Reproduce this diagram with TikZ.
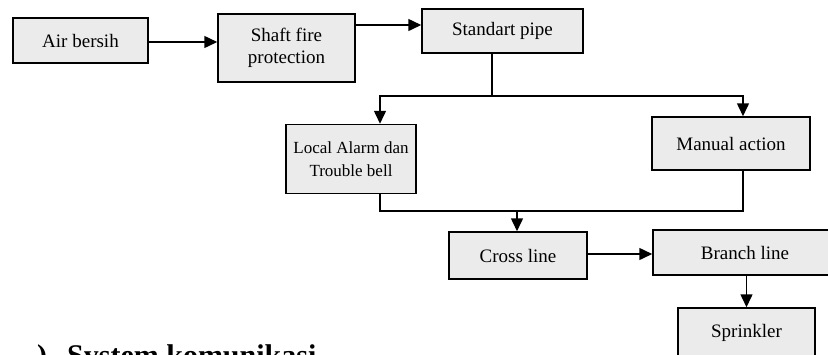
\documentclass[tikz,border=0pt]{standalone}
\usepackage{fontspec}
\setmainfont{Liberation Serif}
\usetikzlibrary{arrows.meta}
\tikzset{
  flowbox/.style={draw=black, line width=1.5pt, fill=gray!16, align=center,
    inner sep=0pt, font=\fontsize{19}{22}\selectfont},
  flow/.style={line width=1.5pt, -{Triangle[length=13pt,width=12pt]}},
  link/.style={line width=1.5pt}
}
\begin{document}
\begin{tikzpicture}[x=1pt,y=-1pt]
\useasboundingbox (0,0) rectangle (828,354);
\clip (0,0) rectangle (828,354);
\fill[white] (0,0) rectangle (828,354);

\node[flowbox, minimum width=135pt, minimum height=45pt] (air) at (80.5,40.5) {Air bersih};
\node[flowbox, minimum width=137pt, minimum height=68pt] (shaft) at (286.5,48) {Shaft fire\\protection};
\node[flowbox, minimum width=161pt, minimum height=44pt] (std) at (502.5,31) {Standart pipe};
\node[flowbox, minimum width=130pt, minimum height=69pt, font=\fontsize{17}{23}\selectfont] (local) at (351,159) {Local Alarm dan\\Trouble bell};
\node[flowbox, minimum width=158pt, minimum height=53pt] (manual) at (731,143.5) {Manual action};
\node[flowbox, minimum width=138pt, minimum height=47pt] (cross) at (518,255.5) {Cross line};
\node[flowbox, minimum width=184pt, minimum height=45pt] (branch) at (745,252.5) {Branch line};
\node[flowbox, minimum width=137pt, minimum height=50pt] (spr) at (746.5,333) {Sprinkler};

\coordinate (split) at (492,96);
\coordinate (sl) at (380,96);
\coordinate (sr) at (743,96);
\coordinate (jl) at (380,211);
\coordinate (jr) at (743,211);
\coordinate (jm) at (517,211);

\draw[flow] (air.east |- 0,42) -- (shaft.west |- 0,42);
\draw[flow] (shaft.east |- 0,25) -- (std.west |- 0,25);
\draw[link] (std.south -| split) -- (split);
\draw[flow] (split) -- (sl) -- (local.north -| sl);
\draw[flow] (split) -- (sr) -- (manual.north -| sr);
\draw[link] (local.south -| jl) -- (jl) -- (jr) -- (manual.south -| jr);
\draw[flow] (jm) -- (cross.north -| jm);
\draw[flow] (cross.east |- 0,254) -- (branch.west |- 0,254);
\draw[flow] (branch.south -| spr.north) -- (spr.north);

\node[anchor=base west, inner sep=0pt, font=\fontsize{30}{34}\selectfont\bfseries] (head) at (37,365) {)\hspace{20pt}System komunikasi};
\end{tikzpicture}
\end{document}
